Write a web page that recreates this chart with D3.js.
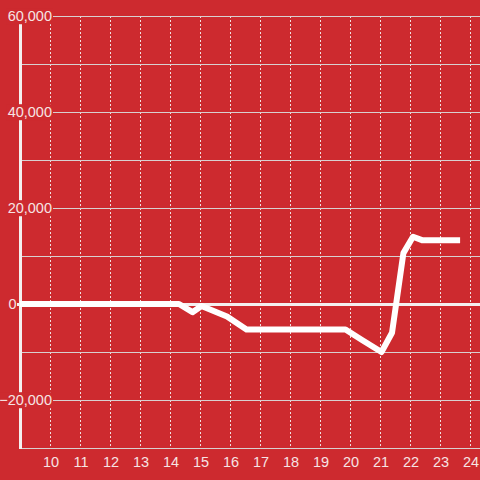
<!DOCTYPE html>
<html><head><meta charset="utf-8">
<script src="https://cdn.jsdelivr.net/npm/d3@7"></script>
<style>html,body{margin:0;padding:0;background:#cd2a2f;}svg{display:block;font-family:"Liberation Sans",Arial,sans-serif;}</style>
</head><body>
<svg id="c" width="480" height="480"></svg>
<script>
const hours = [9, 14.3, 14.75, 15.05, 15.9, 16.55, 19.85, 20.4, 21.05, 21.4, 21.78, 22.1, 22.4, 23.67];
const values = [0, 0, -1700, -400, -2600, -5300, -5300, -7500, -10000, -6000, 10600, 14000, 13300, 13300];
const xTicks = [10, 11, 12, 13, 14, 15, 16, 17, 18, 19, 20, 21, 22, 23, 24];
const yLabelTicks = [-20000, 0, 20000, 40000, 60000];
const yGridTicks = [-20000, -10000, 10000, 20000, 30000, 40000, 50000, 60000];

const bg = "#cd2a2f";
const svg = d3.select("#c");
svg.append("rect").attr("width", 480).attr("height", 480).attr("fill", bg);

const x = d3.scaleLinear().domain([9, 24]).range([20, 470]);
const y = d3.scaleLinear().domain([-30000, 60000]).range([448, 16]);

// vertical dotted grid
svg.append("g").selectAll("line").data(xTicks).join("line")
  .attr("x1", d => Math.round(x(d)) + 0.5).attr("x2", d => Math.round(x(d)) + 0.5)
  .attr("y1", 16).attr("y2", 447)
  .attr("stroke", "#f0e0e0").attr("stroke-width", 1).attr("stroke-dasharray", "2,2");

// horizontal grid
svg.append("g").selectAll("line").data(yGridTicks).join("line")
  .attr("x1", 21).attr("x2", 480)
  .attr("y1", d => Math.round(y(d)) + 0.5).attr("y2", d => Math.round(y(d)) + 0.5)
  .attr("stroke", "#d8d0d0").attr("stroke-width", 1);

// bottom axis line
svg.append("line").attr("x1", 21).attr("x2", 480).attr("y1", 448.5).attr("y2", 448.5)
  .attr("stroke", "#d8d0d0").attr("stroke-width", 1);

// zero line
svg.append("line").attr("x1", 17).attr("x2", 480).attr("y1", y(0) + 0.5).attr("y2", y(0) + 0.5)
  .attr("stroke", "#f4f0f0").attr("stroke-width", 3);

// y axis line
svg.append("line").attr("x1", 20.5).attr("x2", 20.5).attr("y1", 16).attr("y2", 449)
  .attr("stroke", "#f4f0f0").attr("stroke-width", 3);

// y labels with background
const yl = svg.append("g").selectAll("g").data(yLabelTicks).join("g")
  .attr("transform", d => `translate(${d === 0 ? 16.5 : 52},${y(d)})`);
yl.append("text").attr("text-anchor", "end").attr("dy", "0.36em")
  .attr("font-size", 14.5).attr("fill", "#f6e4e4").text(d => d3.format(",")(d))
  .each(function(d){
    if (d === 0) return;
    const b = this.getBBox();
    d3.select(this.parentNode).insert("rect", "text")
      .attr("x", b.x - 1).attr("y", b.y).attr("width", b.width + 2).attr("height", b.height)
      .attr("fill", bg);
  });

// x labels
svg.append("g").selectAll("text").data(xTicks).join("text")
  .attr("x", d => x(d) + 1).attr("y", 467)
  .attr("text-anchor", "middle").attr("font-size", 14.5).attr("fill", "#f6e4e4")
  .text(d => d);

// data line
const data = hours.map((h, i) => [h, values[i]]);
svg.append("path").datum(data)
  .attr("d", d3.line().x(d => x(d[0])).y(d => y(d[1])))
  .attr("fill", "none").attr("stroke", "#ffffff").attr("stroke-width", 6)
  .attr("stroke-linejoin", "round");
</script>
</body></html>
